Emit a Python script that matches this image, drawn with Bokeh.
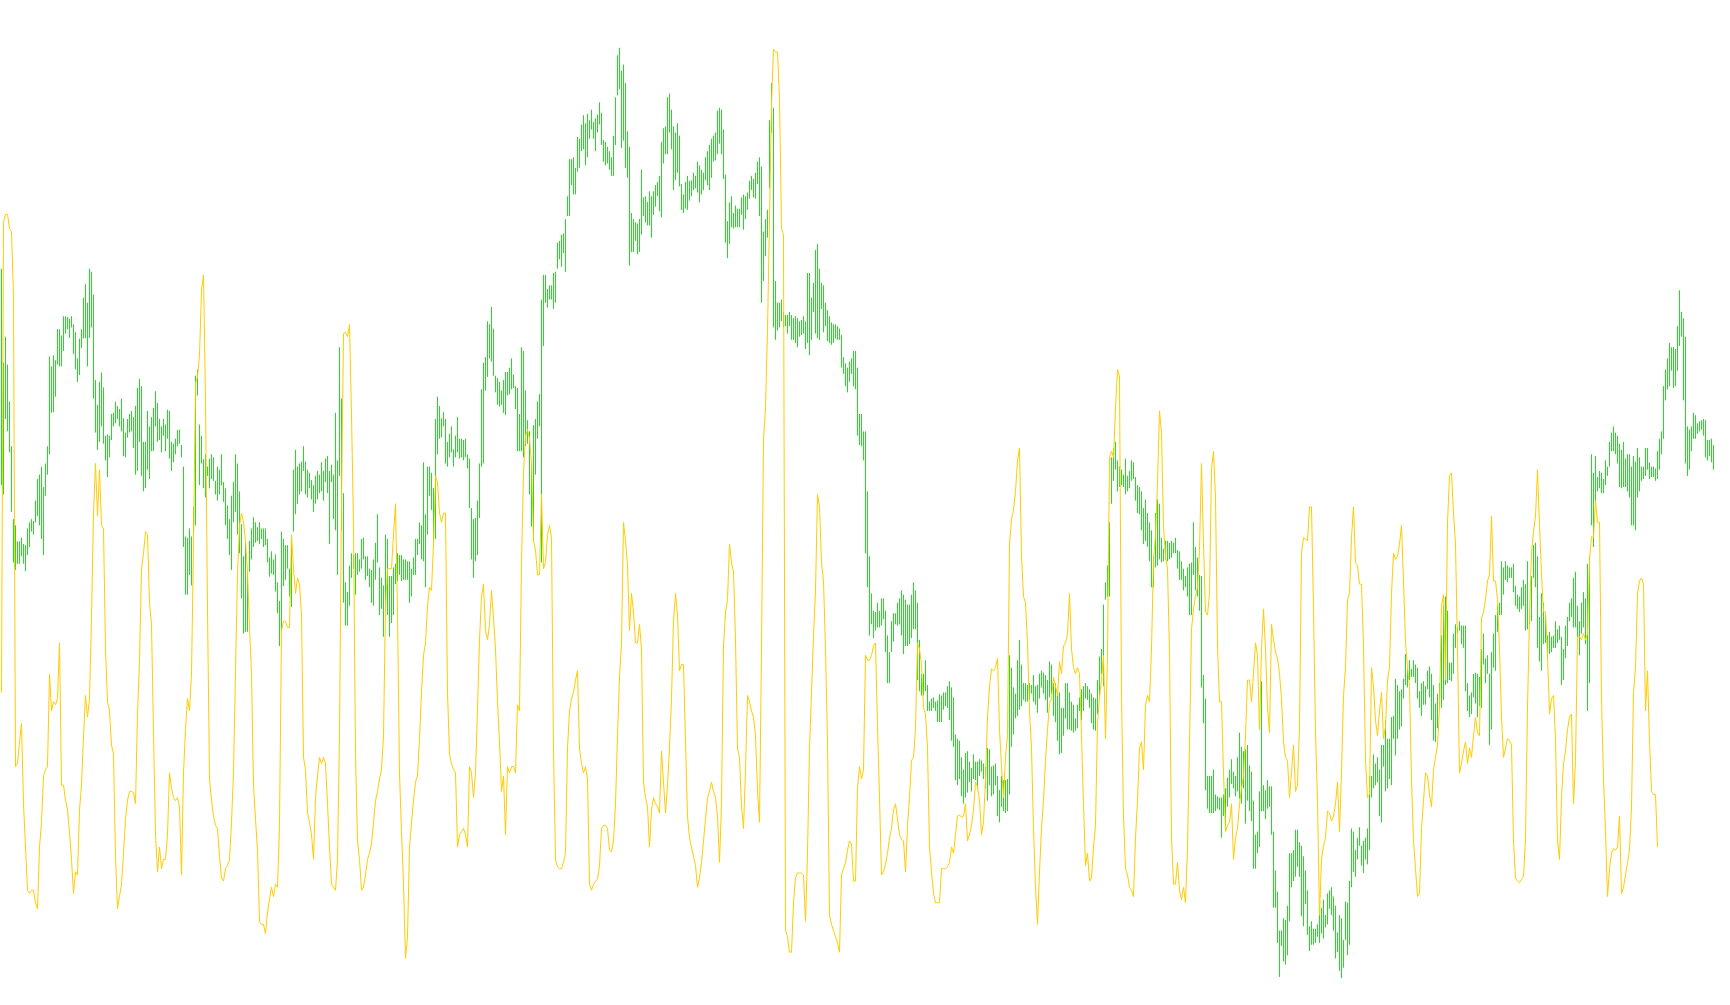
from bokeh.plotting import figure
from bokeh.models import Range1d, ColumnDataSource
from bokeh.embed import file_html
from bokeh.resources import INLINE

# Bar highs (top of each vertical range bar), one per bar, left to right
bar_high = [
    385,537,495,540,600,672,790,800,826,826,820,830,832,805,795,790,793,760,725,718,
    705,738,700,672,527,543,525,533,483,483,493,462,462,463,466,462,475,488,530,498,
    483,432,410,440,385,390,427,565,605,568,553,577,655,653,655,620,618,600,607,612,
    595,627,650,628,620,615,625,607,578,563,575,665,665,615,640,625,610,583,602,628,
    640,628,637,613,615,665,668,660,646,645,670,705,818,820,805,818,770,558,548,637,
    655,693,685,705,692,685,690,728,
    705,710,685,730,740,768,790,752,730,685,700,745,798,850,828,875,825,805,787,795,
    803,795,805,805,805,822,852,842,855,847,892,922,810,822,832,832,870,825,710,678,
    705,700,697,672,697,710,715,727,735,720,712,718,698,712,692,688,712,702,718,618,
    695,512,595,748,892,908,865,845,848,845,845,855,822,820,850,850,870,872,855,828,
    782,868,885,897,815,822,882,882,868,862,845,848,848,855,855,858,858,870,852,822,
    822,795,800,698,782,705,705,715,
    740,628,592,607,627,617,628,665,652,640,677,655,625,660,660,662,660,685,692,772,
    790,788,760,700,580,537,528,470,475,447,482,558,562,568,582,565,552,552,545,530,
    556,575,578,620,512,518,582,630,648,700,638,628,600,588,435,395,395,418,412,412,
    392,390,343,340,330,328,305,268,208,208,205,222,172,175,152,137,150,135,145,128,
    148,142,136,116,133,177,180,188,195,205,170,108,40,28,65,55,85,163,188,295,
    305,310,312,305,225,270,268,277,
    260,268,260,250,245,235,180,158,155,108,102,128,155,165,150,170,248,265,245,235,
    243,242,230,235,212,218,225,230,205,195,185,175,170,165,130,125,128,160,233,308,
    278,268,295,283,288,288,270,265,268,262,243,235,240,230,212,205,220,325,305,290,
    145,85,125,405,440,440,435,455,460,460,455,460,465,462,465,470,468,462,470,392,
    392,432,408,355,345,385,408,412,440,452,462,472,475,475,478,482,492,528,538,545,
    535,530,518,518,545,620,620,648,
    648,745,850,910,938,940,925,938,918,918,938,978,1005,955,942,942,925,918,905,912,
    920,928,928,912,892,905,925,985,1040,1040,1018,1058,1085,1080,1078,1085,1083,1073,1075,1070,
    1070,1060,1052,1062,1078,1138,1145,1148,1175,1195,1168,1165,1182,1192,1170,1182,1182,1178,1180,1185,
    1190,1160,1162,1190,1188,1185,1205,1228,1205,1212,1212,1210,1010,1030,1062,1072,1018,985,1025,1055,
    1055,1058,1055,1058,1042,1060,1058,1040,1035,1038,1042,1050,1020,1025,1055,1055,1070,1070,1095,1095,
    1055,1055,1070,1085,1090,1112,1090,1078,
    1065,1060,1055,1060,1065,1072,1078,1080,1050,1012,1000,928,892,865,795,690,675,665,695,705,
    710,718,692,720,712,695,698,722,735,738,745,772,758,780,795,808,850,780,758,765,
    820,838,825,825,828,825,828,820,840,842,858,870,882,868,862,860,795,835,852,880,
    882,1042,1080,1205,1205,1205,1195,1235,1238,1240,1240,1235,1225,1208,1195,1178,1198,1205,1175,1135,
    1158,1165,1162,1155,1188,1198,1245,1300,1295,1230,1052,1220,1228,1212,1222,1222,1295,1358,1392,1455,
    1455,1435,1438,1415,1330,1330,1325,1292,
    1292,1312,1318,1335,1358,1390,1448,1440,1452,1452,1445,1430,1418,1405,1430,1395,1390,1385,1400,1415,
    1458,1430,1435,1470,1408,1410,1375,1290,1295,1325,1305,1288,1318,1310,1305,1290,1205,1205,1170,1185,
    1175,1195,1155,1155,1115,1145,1145,1110,1108,1048,1058,1068,1065,1048,1008,1032,1018,1032,1018,1025,
    1030,1068,1055,1052,1060,1035,1028,1040,1058,1088,1072,1055,978,930,915,938,1022,1022,975,960,
    965,955,962,962,962,1055,1075,1070,1040,1038,1040,1045,1000,975,1015,1010,1040,1005,975,945,
    930,925,858,868,858,865,868,868,
    862,898,912,915,900,888,895,858,945,882,832,828,850,948,910,925,945,978,972,980,
    978,955,968,962,980,1000,962,948,925,918,885,875,930,955,925,908,918,862,850,685,
    715,688,722,712,715,725,695,705,665,650,640,650,655,668,678,665,692,685,685,705,
    688,697,675,690,705,705,675,675,698,705,705,708,680,660,648,575,548,530,505,512,
    512,515,478,420,455,465,495,640,645,640,618,622,635,632,630,628,630,662,662,660,
    670,695,628,615,588,585,555,560,455,
]

# Bar lows (bottom of each vertical range bar)
bar_low = [
    735,750,628,648,682,778,860,872,862,862,850,862,874,848,835,810,815,795,785,800,
    822,848,752,718,685,618,617,592,540,543,543,518,490,483,497,480,523,548,568,557,
    513,498,497,543,497,480,595,650,678,665,640,668,695,722,690,662,640,635,628,640,
    648,688,690,658,650,648,675,718,712,665,720,745,740,710,725,680,680,640,665,662,
    682,655,680,660,692,712,698,685,672,668,690,835,912,912,880,897,812,800,590,735,
    700,740,755,720,740,725,728,750,
    760,750,735,762,800,822,848,872,795,778,815,845,918,975,972,972,875,855,835,828,
    825,830,822,835,832,860,883,878,880,907,942,995,975,898,888,870,915,932,810,782,
    765,750,745,712,750,755,740,758,778,765,758,748,745,760,730,748,830,730,790,808,
    880,720,808,925,962,962,930,885,870,912,880,875,870,855,888,882,900,925,930,888,
    860,945,935,980,935,945,980,958,945,895,890,880,890,888,888,888,925,915,880,880,
    848,830,855,858,900,815,752,775,
    828,822,685,660,658,640,700,705,690,682,705,690,682,692,690,695,690,708,772,855,
    885,858,848,788,705,700,582,560,530,535,558,585,605,608,605,618,622,590,588,580,
    578,612,680,680,680,690,672,668,750,802,825,718,660,640,860,510,440,448,435,435,
    450,440,385,370,382,360,390,300,300,250,265,265,228,222,195,192,218,205,175,160,
    175,195,165,152,185,212,218,215,225,235,235,185,105,95,190,178,222,238,380,358,
    358,340,362,358,330,300,310,315,
    315,335,298,285,268,292,302,215,200,200,165,192,258,242,230,252,290,295,288,290,
    275,268,258,255,262,278,265,258,242,250,258,238,212,210,200,183,200,240,343,368,
    345,318,320,318,318,318,298,322,305,290,272,258,270,272,248,300,440,405,365,335,
    255,165,480,500,485,480,470,480,478,490,478,500,500,505,512,495,492,490,515,505,
    525,500,455,490,497,500,450,488,478,502,505,508,505,498,500,500,545,555,575,585,
    568,555,575,580,655,670,672,695,
    845,900,978,960,982,970,965,965,962,952,1005,1055,1055,1005,988,960,962,960,978,1008,
    995,995,992,982,968,968,1050,1068,1075,1075,1068,1100,1100,1100,1095,1100,1118,1118,1118,1098,
    1092,1095,1115,1148,1158,1212,1220,1210,1238,1250,1240,1232,1215,1230,1210,1212,1225,1205,1198,1210,
    1225,1245,1220,1238,1235,1220,1270,1280,1255,1262,1265,1262,1235,1158,1138,1112,1108,1098,1092,1082,
    1085,1085,1082,1072,1085,1090,1103,1080,1062,1072,1082,1103,1078,1072,1108,1118,1148,1170,1168,1140,
    1112,1130,1130,1132,1135,1132,1128,1100,
    1115,1100,1080,1082,1095,1120,1130,1132,1105,1075,1040,1060,920,915,915,765,728,710,745,738,
    735,738,750,745,740,728,725,760,780,782,808,830,825,835,858,900,900,868,865,855,
    860,858,855,858,855,852,845,845,870,888,888,905,900,915,945,945,880,905,915,938,
    1062,1120,1228,1258,1265,1265,1265,1262,1258,1260,1305,1270,1285,1255,1240,1218,1225,1238,1230,1242,
    1250,1225,1282,1245,1262,1278,1355,1355,1330,1320,1262,1262,1275,1258,1255,1300,1418,1418,1475,1530,
    1480,1505,1510,1495,1440,1385,1375,1368,
    1352,1368,1432,1448,1412,1462,1488,1478,1478,1475,1465,1475,1460,1468,1450,1445,1420,1430,1455,1500,
    1490,1520,1532,1515,1470,1495,1478,1385,1360,1368,1340,1318,1350,1362,1340,1348,1325,1240,1225,1220,
    1215,1270,1280,1190,1230,1225,1210,1220,1145,1172,1145,1130,1125,1080,1058,1062,1050,1045,1045,1055,
    1080,1095,1108,1090,1090,1065,1078,1115,1148,1150,1128,1095,1095,1082,1058,1055,1050,1052,1040,998,
    975,970,992,998,1068,1100,1110,1105,1078,1088,1110,1092,1095,1025,1055,1040,1155,1130,1030,1035,
    972,945,945,912,888,892,885,885,
    908,930,935,940,935,930,970,968,960,955,885,900,998,1020,1035,992,990,1015,1008,1005,
    998,998,990,985,1058,1050,1015,995,955,948,965,965,988,1010,975,965,992,1100,1055,800,
    835,765,745,740,748,748,735,720,705,680,680,685,700,738,740,738,738,745,755,800,
    800,808,755,745,728,725,720,710,725,722,722,728,725,710,685,660,598,580,575,550,
    578,575,550,510,495,598,700,720,710,680,660,660,652,648,645,655,690,695,688,698,
    710,730,738,728,685,628,612,618,620,
]

# Signal line, one value per bar (ends before the last bars)
signal = [
    1070,310,297,297,320,325,430,1190,1185,1150,1120,1250,1320,1390,1395,1390,1390,1410,1420,1320,
    1280,1205,1195,1190,1040,1100,1085,1090,1080,990,1220,1220,1245,1260,1295,1340,1395,1360,1365,1260,
    1220,1140,1075,1110,1080,950,780,700,785,710,800,805,1000,1085,1100,1155,1170,1335,1420,1400,
    1380,1330,1275,1245,1230,1230,1232,1250,1105,1020,870,845,810,815,925,960,1135,1300,1360,1320,
    1355,1340,1340,1300,1200,1225,1240,1245,1240,1255,1365,1200,1130,1080,1100,1040,830,570,560,525,
    420,395,600,935,1210,1245,1270,1285,
    1290,1335,1370,1375,1355,1350,1340,1280,1200,1035,880,800,780,795,825,875,965,1040,1220,1275,
    1325,1440,1445,1445,1460,1425,1405,1385,1400,1380,1385,1285,970,955,955,965,965,815,870,910,
    885,895,945,1175,1195,1265,1280,1300,1340,1240,1205,1175,1185,1175,1185,1250,1320,1380,1385,1390,
    1340,1140,760,490,488,495,475,620,800,1170,1310,1340,1390,1385,1365,1340,1330,1315,1280,1245,
    1230,1210,1195,1140,930,870,870,870,815,765,940,1200,1295,1380,1500,1465,1320,1280,1245,1215,
    1205,1145,1070,1010,990,930,900,905,
    830,720,730,780,795,780,780,1070,1170,1185,1195,1200,1320,1300,1295,1290,1300,1320,1190,1200,
    1240,1200,1095,985,915,895,970,985,960,905,950,1000,1085,1150,1230,1205,1300,1190,1200,1190,
    1190,1200,1090,1100,860,715,655,645,660,700,825,840,880,880,750,870,860,815,800,820,
    1165,1340,1352,1355,1355,1345,1330,1160,1100,1080,1070,1050,1035,1160,1185,1200,1190,1210,1380,1390,
    1380,1375,1372,1350,1290,1285,1285,1290,1325,1328,1310,1250,1140,1045,990,795,825,865,970,910,
    940,990,990,960,1000,1215,1240,1255,
    1320,1260,1240,1250,1255,1265,1165,1215,1265,1220,1160,1080,955,910,945,1035,1025,1025,1150,1270,
    1305,1320,1335,1350,1385,1370,1345,1310,1275,1240,1230,1215,1230,1240,1270,1345,1250,995,940,920,
    830,860,875,985,1160,1175,1255,1290,1195,1075,1085,1100,1110,1140,1230,1280,1000,660,610,485,
    305,120,30,35,35,110,320,330,1455,1465,1490,1490,1410,1370,1362,1362,1362,1365,1440,1330,
    1160,1070,980,905,750,770,860,890,1000,1150,1430,1445,1455,1465,1475,1490,1365,1355,1345,1325,
    1310,1315,1375,1375,1225,1190,1210,1195,
    1010,1018,1018,1010,995,990,1125,1240,1365,1360,1348,1330,1305,1290,1260,1250,1275,1300,1308,1310,
    1360,1285,1240,1180,1175,1130,990,1000,1025,1095,1105,1160,1320,1360,1395,1410,1410,1410,1355,1355,
    1355,1352,1345,1320,1330,1300,1270,1268,1272,1270,1250,1310,1300,1285,1260,1215,1222,1245,1300,1280,
    1210,1110,1060,1032,1035,1030,1015,1130,1190,1240,1175,1140,830,790,775,745,695,675,850,915,
    925,990,1100,1160,1290,1385,1445,1360,1290,1245,1180,1130,1088,1080,1045,1060,1075,1020,1040,995,
    990,975,910,1000,1030,1040,1030,1040,
    1140,1250,1350,1330,1375,1370,1320,1285,1120,1078,1050,1010,1145,1010,690,680,690,610,548,560,
    1075,1270,1355,1365,1385,1390,1400,1305,1245,1160,1150,1195,1090,1075,1085,1000,855,815,730,615,
    650,800,850,870,1005,1305,1380,1380,1345,1390,1405,1385,1410,1320,1155,968,935,915,900,840,
    700,830,940,945,910,710,680,755,995,1085,1085,1200,1295,1285,1280,1250,1340,1305,1290,1250,
    1225,1205,1140,1050,1050,1085,1040,990,1010,1130,1000,935,1000,1095,1135,960,985,1005,1015,1040,
    1080,1150,1175,1180,1240,1200,1155,1230,
    1220,1125,845,820,822,825,770,770,935,1135,1245,1430,1340,1318,1305,1262,1265,1278,1270,1250,
    1215,1295,1200,1075,1030,920,910,820,770,860,865,895,895,995,1180,1240,1235,1030,1060,1115,
    1140,1100,1070,1145,1125,1050,1030,910,845,855,850,830,800,890,990,1030,1060,1210,1310,1355,
    1400,1395,1290,1245,1200,1205,1235,1255,1195,1175,1155,1095,930,912,1050,795,720,715,780,830,
    1000,1200,1185,1165,1150,1185,1160,1175,1140,1110,1135,1140,950,940,920,890,880,785,890,890,
    920,1000,1110,1175,1160,1145,1148,1155,
    1310,1370,1375,1378,1372,1368,1305,1095,945,845,810,785,710,800,880,940,940,1010,1105,1080,
    1075,1145,1310,1340,1240,1185,1165,1130,1110,1105,1250,1180,980,980,985,975,985,975,855,818,
    820,760,795,795,1080,1210,1295,1400,1355,1330,1322,1325,1320,1270,1395,1385,1365,1345,1325,1255,
    1070,1030,910,890,885,895,1100,1035,1150,1230,1235,1235,1320,
]

bars = ColumnDataSource(dict(i=list(range(len(bar_high))), hi=bar_high, lo=bar_low))
sig = ColumnDataSource(dict(i=list(range(len(signal))), v=signal))

p = figure(
    width=1714, height=989,
    output_backend="svg", toolbar_location=None,
    x_range=Range1d(-0.5, 856.5),
    y_range=Range1d(1550.3, -48.5),
    x_axis_location=None, y_axis_location=None,
    min_border=0, min_border_left=0, min_border_right=0,
    min_border_top=0, min_border_bottom=0,
    background_fill_color="white", border_fill_color="white",
)
p.outline_line_color = None
p.grid.visible = False

p.segment(x0="i", y0="hi", x1="i", y1="lo", source=bars,
          line_color="#22DD22", line_width=1)
p.line(x="i", y="v", source=sig, line_color="#FFCC00", line_width=1)

open("out.html", "w").write(file_html(p, INLINE))
